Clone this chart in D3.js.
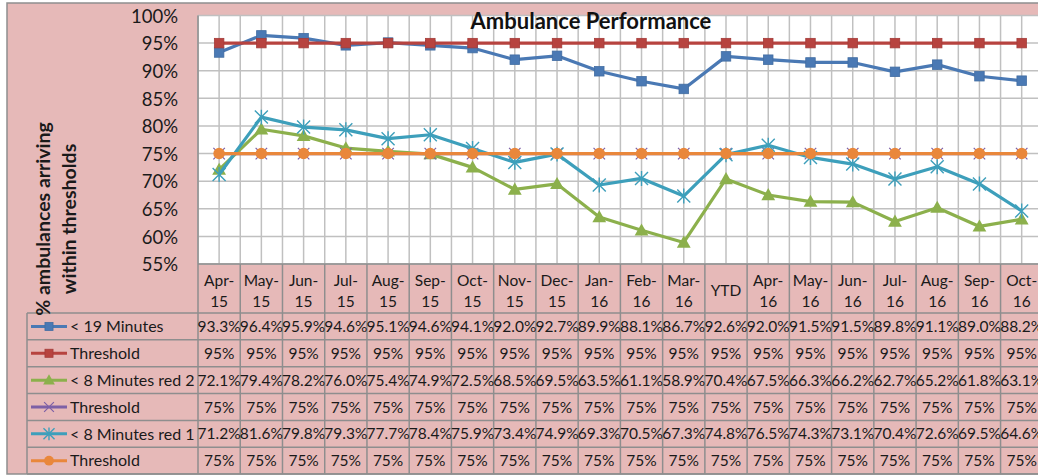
<!DOCTYPE html>
<html><head><meta charset="utf-8">
<script src="https://cdn.jsdelivr.net/npm/d3@7"></script>
<style>
html,body{margin:0;padding:0;background:#fff;overflow:hidden}
svg{display:block;font-family:Lato,"Open Sans",sans-serif}
</style></head>
<body><svg id="c" width="1038" height="476"></svg>
<script>
const categories = ["Apr-15","May-15","Jun-15","Jul-15","Aug-15","Sep-15","Oct-15","Nov-15","Dec-15","Jan-16","Feb-16","Mar-16","YTD","Apr-16","May-16","Jun-16","Jul-16","Aug-16","Sep-16","Oct-16"];
const under19 = [93.3,96.4,95.9,94.6,95.1,94.6,94.1,92.0,92.7,89.9,88.1,86.7,92.6,92.0,91.5,91.5,89.8,91.1,89.0,88.2];
const threshold95 = [95,95,95,95,95,95,95,95,95,95,95,95,95,95,95,95,95,95,95,95];
const red2 = [72.1,79.4,78.2,76.0,75.4,74.9,72.5,68.5,69.5,63.5,61.1,58.9,70.4,67.5,66.3,66.2,62.7,65.2,61.8,63.1];
const threshold75a = [75,75,75,75,75,75,75,75,75,75,75,75,75,75,75,75,75,75,75,75];
const red1 = [71.2,81.6,79.8,79.3,77.7,78.4,75.9,73.4,74.9,69.3,70.5,67.3,74.8,76.5,74.3,73.1,70.4,72.6,69.5,64.6];
const threshold75b = [75,75,75,75,75,75,75,75,75,75,75,75,75,75,75,75,75,75,75,75];
const yTicks = [55,60,65,70,75,80,85,90,95,100];
const seriesNames = ["< 19 Minutes","Threshold","< 8 Minutes red 2","Threshold","< 8 Minutes red 1","Threshold"];
const chartTitle = "Ambulance Performance";
const axisTitle = ["% ambulances arriving","within thresholds"];

const series = [
  {name:seriesNames[0], values:under19, color:"#4a79b4", marker:"square", fmt:"d1"},
  {name:seriesNames[1], values:threshold95, color:"#b7433f", marker:"square", fmt:"d0"},
  {name:seriesNames[2], values:red2, color:"#8cb04c", marker:"triangle", fmt:"d1"},
  {name:seriesNames[3], values:threshold75a, color:"#7d60a6", marker:"x", fmt:"d0"},
  {name:seriesNames[4], values:red1, color:"#3d9fbb", marker:"star", fmt:"d1"},
  {name:seriesNames[5], values:threshold75b, color:"#e9873b", marker:"circle", fmt:"d0"}
];

const PINK="#e6b9b8", GRID="#c0c0c0", BORDER="#8e8e8e";
const svg = d3.select("#c");
const colW = 42.24, plotL = 198, plotT = 15.5, plotB = 264;
const plotR = plotL + colW*categories.length;
const x = d3.scaleBand().domain(categories).range([plotL, plotR]).padding(0);
const y = d3.scaleLinear().domain([55,100]).range([plotB, plotT]);

// background
svg.append("rect").attr("x",7).attr("y",3).attr("width",1200).attr("height",471)
  .attr("fill",PINK).attr("stroke",BORDER).attr("stroke-width",1.5);
svg.append("rect").attr("x",plotL).attr("y",plotT).attr("width",plotR-plotL).attr("height",plotB-plotT).attr("fill","#fff");

// grid
const g = svg.append("g");
categories.forEach(c=>{
  [x(c), x(c)+colW/2].forEach(xx=>{
    g.append("line").attr("x1",xx).attr("x2",xx).attr("y1",plotT).attr("y2",plotB).attr("stroke",GRID).attr("stroke-width",1.5);
  });
});
yTicks.forEach(t=>{
  g.append("line").attr("x1",plotL).attr("x2",plotR).attr("y1",y(t)).attr("y2",y(t)).attr("stroke",GRID).attr("stroke-width",1.5);
});

// y axis
const yAxis = d3.axisLeft(y).tickValues(yTicks).tickSize(0).tickPadding(0).tickFormat(d=>d+"%");
const ya = svg.append("g").attr("transform",`translate(${plotL-20},0)`).call(yAxis);
ya.select(".domain").remove();
ya.selectAll("text").attr("font-size",18.5).attr("fill","#1a1a1a").attr("font-family","Lato").attr("dy","0.36em");

// table
const rowTop = 313, rowH = 26.85, nRows = 6, tableL = 27;
const tableBottom = rowTop + rowH*nRows;
const tb = svg.append("g");
tb.append("line").attr("x1",plotL).attr("x2",plotR).attr("y1",plotB).attr("y2",plotB).attr("stroke",BORDER).attr("stroke-width",1.5);
for(let i=0;i<=nRows;i++){
  tb.append("line").attr("x1",tableL).attr("x2",plotR).attr("y1",rowTop+i*rowH).attr("y2",rowTop+i*rowH).attr("stroke",BORDER).attr("stroke-width",1.5);
}
for(let i=0;i<=categories.length;i++){
  const xx = plotL + i*colW;
  tb.append("line").attr("x1",xx).attr("x2",xx).attr("y1",i===0?plotT:plotB).attr("y2",tableBottom).attr("stroke",BORDER).attr("stroke-width",1.5);
}
tb.append("line").attr("x1",tableL).attr("x2",tableL).attr("y1",rowTop).attr("y2",tableBottom).attr("stroke",BORDER).attr("stroke-width",1.5);

// category labels
const FS = 15.5;
categories.forEach(c=>{
  const cx = x(c)+colW/2;
  const parts = c.includes("-") ? [c.split("-")[0]+"-", c.split("-")[1]] : [c];
  const t = tb.append("text").attr("text-anchor","middle").attr("font-size",FS).attr("fill","#1a1a1a");
  if(parts.length===2){
    t.append("tspan").attr("x",cx).attr("y",286).text(parts[0]);
    t.append("tspan").attr("x",cx).attr("y",307).text(parts[1]);
  } else {
    t.append("tspan").attr("x",cx).attr("y",296).text(parts[0]);
  }
});

function drawMarker(sel, type, color, s){
  if(type==="square"){
    sel.append("rect").attr("x",-s/2).attr("y",-s/2).attr("width",s).attr("height",s)
      .attr("fill",color).attr("stroke",d3.color(color).darker(0.3)).attr("stroke-width",0.8);
  } else if(type==="triangle"){
    const h = s*1.0;
    sel.append("path").attr("d",`M0,${-h*0.6}L${s*0.6},${h*0.45}L${-s*0.6},${h*0.45}Z`).attr("fill",color);
  } else if(type==="circle"){
    sel.append("circle").attr("r",s/2).attr("fill",color);
  } else if(type==="x"){
    const a=s/2;
    sel.append("path").attr("d",`M${-a},${-a}L${a},${a}M${-a},${a}L${a},${-a}`).attr("stroke",color).attr("stroke-width",1.2).attr("fill","none");
  } else if(type==="star"){
    const a=s/2;
    sel.append("path").attr("d",`M${-a},${-a}L${a},${a}M${-a},${a}L${a},${-a}M0,${-a*1.15}L0,${a*1.15}`).attr("stroke",color).attr("stroke-width",1.4).attr("fill","none");
  }
}
const markerSize = {square:9.5, triangle:11.5, circle:11.5, x:11.5, star:13};

const line = d3.line().x((d,i)=>x(categories[i])+colW/2).y(d=>y(d));
const lg = svg.append("g");
series.forEach(s=>{
  const sg = lg.append("g");
  sg.append("path").datum(s.values).attr("d",line).attr("fill","none").attr("stroke",s.color).attr("stroke-width",3.2).attr("stroke-linejoin","round");
  s.values.forEach((v,i)=>{
    const mg = sg.append("g").attr("transform",`translate(${x(categories[i])+colW/2},${y(v)})`);
    drawMarker(mg, s.marker, s.color, markerSize[s.marker]);
  });
});

series.forEach((s,r)=>{
  const cy = rowTop + r*rowH + rowH/2;
  tb.append("line").attr("x1",31).attr("x2",67).attr("y1",cy).attr("y2",cy).attr("stroke",s.color).attr("stroke-width",3);
  const mg = tb.append("g").attr("transform",`translate(49,${cy})`);
  drawMarker(mg, s.marker, s.color, markerSize[s.marker]*0.85);
  tb.append("text").attr("x",70).attr("y",cy).attr("dy","0.36em").attr("font-size",FS+0.5).attr("fill","#1a1a1a").text(s.name);
  s.values.forEach((v,i)=>{
    tb.append("text").attr("x",x(categories[i])+colW/2).attr("y",cy).attr("dy","0.36em")
      .attr("text-anchor","middle").attr("font-size",FS).attr("fill","#1a1a1a")
      .text(s.fmt==="d1" ? v.toFixed(1)+"%" : v.toFixed(0)+"%");
  });
});

const at = svg.append("g").attr("transform","translate(0,219)");
[43,69].forEach((xx,i)=>{
  at.append("text").attr("transform",`translate(${xx},0) rotate(-90)`).attr("text-anchor","middle")
    .attr("dy","0.36em").attr("font-size",19.5).attr("font-weight","bold").attr("fill","#1a1a1a").text(axisTitle[i]);
});

svg.append("text").attr("x",591).attr("y",29).attr("text-anchor","middle").attr("font-size",22)
  .attr("font-weight","bold").attr("fill","#111").text(chartTitle);
</script></body></html>
